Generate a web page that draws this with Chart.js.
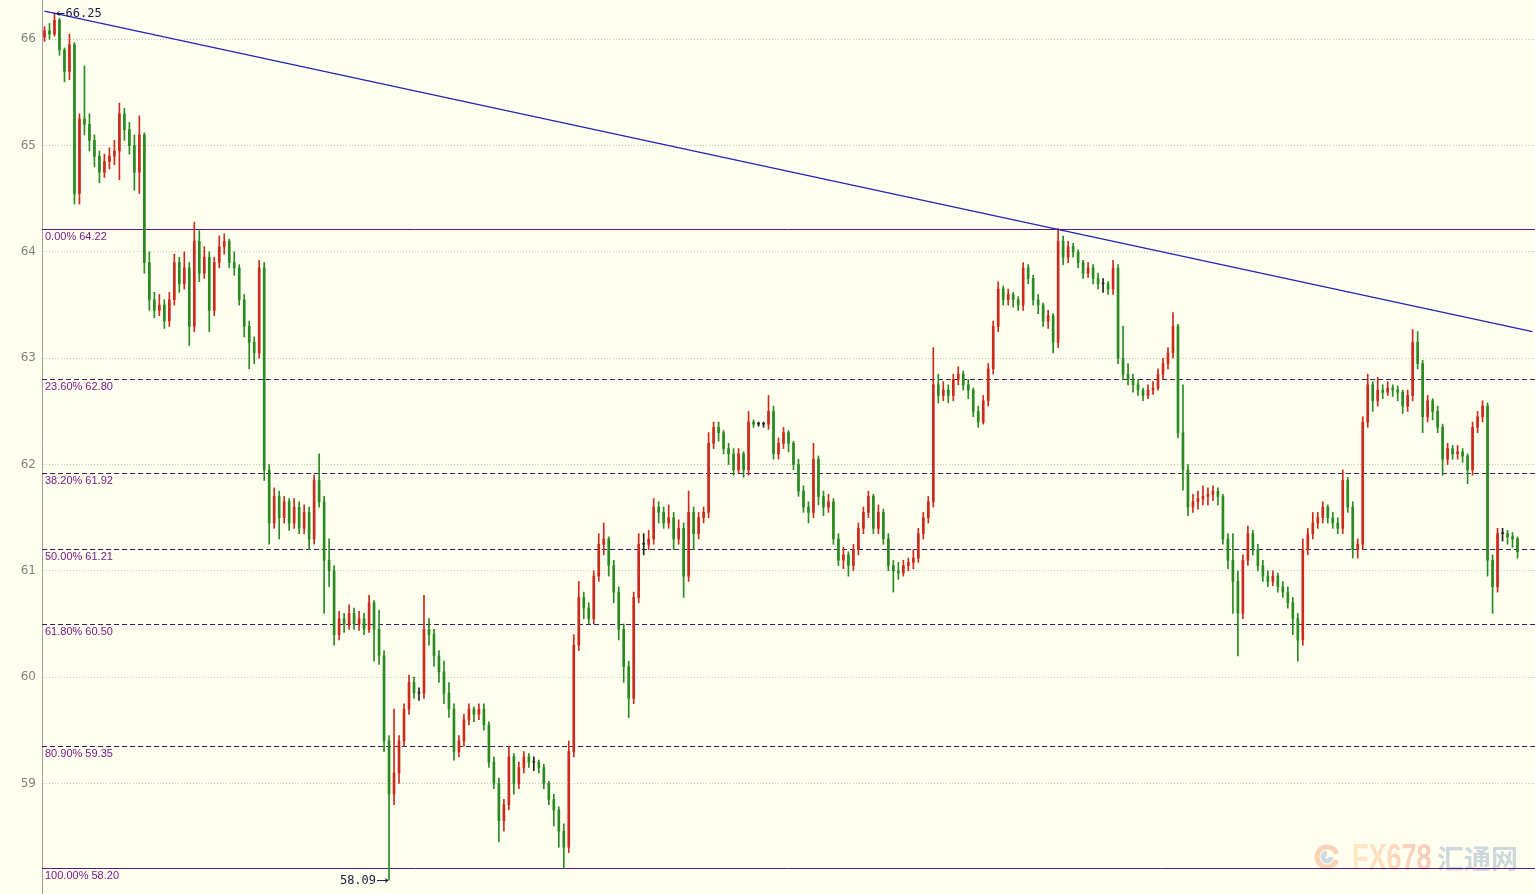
<!DOCTYPE html>
<html>
<head>
<meta charset="utf-8">
<title>Candles</title>
<script src="https://cdn.jsdelivr.net/npm/chart.js@4.4.1/dist/chart.umd.min.js"></script>
<style>
    html, body { margin: 0; padding: 0; background: #fffff0; }
    #wrap { width: 1535px; height: 894px; }
</style>
</head>
<body>
<div id="wrap"><canvas id="myChart" width="1535" height="894"></canvas></div>
<script>
// prices, one candle per slot
const opens = [
    66.02,66.08,66.05,66.18,65.90,65.70,65.95,64.55,65.25,65.20,
    65.05,64.90,64.75,64.85,64.90,64.95,65.30,65.15,65.00,64.75,
    65.10,63.90,63.55,63.45,63.50,63.35,63.55,63.90,63.70,63.85,
    63.30,64.10,63.80,63.95,63.45,63.90,64.05,64.10,63.90,63.85,
    63.55,63.30,63.15,63.05,63.85,61.95,61.45,61.70,61.50,61.65,
    61.45,61.60,61.40,61.55,61.30,61.85,61.65,61.10,61.00,60.40,
    60.55,60.50,60.60,60.50,60.55,60.45,60.70,60.45,60.20,59.40,
    58.90,59.10,59.40,59.70,59.95,59.85,59.85,60.45,60.40,60.20,
    60.05,59.85,59.70,59.30,59.40,59.60,59.70,59.65,59.70,59.55,
    59.20,59.00,58.65,58.80,59.25,59.00,59.15,59.25,59.20,59.20,
    59.15,59.00,58.85,58.75,58.55,58.40,59.30,60.30,60.75,60.65,
    60.55,60.95,61.25,61.30,61.05,60.80,60.45,60.10,59.80,60.75,
    61.25,61.25,61.30,61.60,61.55,61.45,61.50,61.30,61.40,60.95,
    61.55,61.35,61.50,61.55,62.20,62.35,62.30,62.15,62.10,61.95,
    62.10,61.95,62.40,62.38,62.38,62.38,62.50,62.10,62.20,62.30,
    62.20,62.00,61.75,61.60,61.55,62.05,61.70,61.60,61.65,61.30,
    61.10,61.15,61.05,61.20,61.40,61.55,61.70,61.40,61.55,61.30,
    61.05,61.00,60.98,61.05,61.08,61.12,61.35,61.50,61.65,62.75,
    62.65,62.70,62.65,62.80,62.85,62.75,62.70,62.50,62.40,62.60,
    62.90,63.30,63.65,63.55,63.60,63.55,63.50,63.85,63.75,63.55,
    63.50,63.35,63.40,63.15,64.10,63.95,64.05,64.00,63.90,63.80,
    63.85,63.75,63.70,63.70,63.65,63.85,63.00,62.85,62.80,62.75,
    62.70,62.65,62.70,62.72,62.85,62.95,63.05,63.30,62.30,61.95,
    61.60,61.65,61.68,61.70,61.72,61.75,61.70,61.30,61.10,60.90,
    60.60,61.10,61.35,61.20,61.05,60.95,60.90,60.95,60.85,60.80,
    60.70,60.55,60.35,61.20,61.35,61.45,61.50,61.60,61.50,61.45,
    61.40,61.85,61.60,61.20,61.25,62.40,62.75,62.60,62.70,62.68,
    62.72,62.70,62.68,62.55,62.65,63.15,62.95,62.45,62.60,62.50,
    62.35,62.05,62.15,62.10,62.12,62.08,61.95,62.35,62.45,62.55,
    61.10,60.85,61.35,61.35,61.32,61.30
];
const highs = [
    66.12,66.15,66.25,66.20,65.92,66.05,65.97,65.30,65.75,65.30,
    65.10,64.95,64.92,64.98,65.05,65.40,65.35,65.22,65.10,65.28,
    65.12,64.00,63.62,63.60,63.55,63.62,63.98,63.95,64.00,63.90,
    64.28,64.20,64.05,64.00,63.95,64.15,64.17,64.12,64.00,63.88,
    63.60,63.35,63.20,63.92,63.90,62.00,61.78,61.75,61.70,61.68,
    61.68,61.65,61.62,61.60,61.90,62.10,61.70,61.30,61.05,60.62,
    60.60,60.68,60.65,60.62,60.60,60.77,60.72,60.63,60.25,59.45,
    59.70,59.45,59.75,60.02,60.00,59.90,60.77,60.55,60.45,60.25,
    60.15,59.95,59.75,59.45,59.65,59.75,59.72,59.75,59.75,59.58,
    59.25,59.05,58.85,59.35,59.28,59.20,59.30,59.28,59.25,59.22,
    59.18,59.02,58.90,58.78,58.62,59.40,60.40,60.90,60.80,60.70,
    61.00,61.35,61.45,61.32,61.10,60.85,60.50,60.15,60.80,61.35,
    61.35,61.38,61.68,61.65,61.60,61.62,61.55,61.48,61.45,61.75,
    61.60,61.55,61.60,62.30,62.40,62.40,62.32,62.20,62.15,62.15,
    62.12,62.50,62.42,62.40,62.40,62.65,62.55,62.25,62.35,62.32,
    62.22,62.05,61.80,61.65,62.20,62.08,61.75,61.72,61.68,61.35,
    61.22,61.18,61.25,61.45,61.60,61.75,61.72,61.62,61.58,61.35,
    61.10,61.08,61.10,61.12,61.20,61.40,61.55,61.70,63.10,62.85,
    62.78,62.75,62.85,62.92,62.88,62.80,62.72,62.55,62.65,62.95,
    63.35,63.72,63.68,63.65,63.62,63.58,63.90,63.88,63.78,63.60,
    63.52,63.45,63.42,64.22,64.15,64.10,64.08,64.02,63.92,63.90,
    63.88,63.80,63.75,63.72,63.92,63.88,63.30,62.95,62.85,62.80,
    62.72,62.75,62.78,62.90,63.00,63.10,63.43,63.32,62.75,62.00,
    61.72,61.75,61.80,61.78,61.80,61.78,61.72,61.35,61.35,61.00,
    61.15,61.42,61.38,61.25,61.10,61.00,61.00,60.98,60.90,60.85,
    60.75,60.60,61.30,61.40,61.55,61.55,61.65,61.62,61.55,61.50,
    61.95,61.88,61.65,61.30,62.45,62.85,62.78,62.82,62.75,62.78,
    62.75,62.74,62.70,62.70,63.27,63.25,62.98,62.65,62.62,62.55,
    62.38,62.20,62.18,62.18,62.15,62.10,62.40,62.50,62.60,62.58,
    61.15,61.40,61.40,61.38,61.36,61.32
];
const lows = [
    65.98,66.00,66.03,65.85,65.60,65.62,64.45,64.45,65.10,64.95,
    64.80,64.65,64.70,64.78,64.82,64.68,65.05,64.92,64.58,64.55,
    63.80,63.45,63.38,63.40,63.28,63.30,63.50,63.62,63.65,63.12,
    63.25,63.72,63.75,63.25,63.40,63.85,63.98,63.85,63.78,63.50,
    63.20,62.90,62.95,63.00,61.85,61.25,61.40,61.30,61.45,61.38,
    61.40,61.35,61.35,61.20,61.25,61.60,60.60,60.85,60.30,60.35,
    60.42,60.45,60.45,60.44,60.40,60.42,60.15,60.12,59.30,58.09,
    58.80,59.00,59.35,59.65,59.80,59.78,59.80,60.30,60.10,59.95,
    59.75,59.62,59.22,59.25,59.35,59.55,59.58,59.60,59.50,59.15,
    58.95,58.45,58.55,58.75,58.90,58.95,59.10,59.15,59.12,59.10,
    58.95,58.80,58.60,58.40,58.20,58.35,59.25,60.25,60.55,60.50,
    60.50,60.90,61.15,60.95,60.70,60.35,59.95,59.62,59.75,60.70,
    61.15,61.20,61.25,61.45,61.40,61.40,61.20,61.25,60.75,60.90,
    61.20,61.30,61.45,61.50,62.15,62.22,62.10,62.00,61.90,61.92,
    61.88,61.90,62.35,62.36,62.35,62.33,62.05,62.05,62.15,62.12,
    61.95,61.70,61.55,61.45,61.50,61.62,61.52,61.55,61.25,61.05,
    61.02,60.95,61.00,61.15,61.35,61.50,61.35,61.35,61.25,61.00,
    60.80,60.92,60.95,61.00,61.02,61.08,61.30,61.45,61.60,62.58,
    62.60,62.58,62.60,62.75,62.70,62.62,62.45,62.35,62.38,62.55,
    62.85,63.25,63.50,63.50,63.48,63.45,63.45,63.70,63.50,63.42,
    63.30,63.28,63.05,63.10,63.88,63.90,63.95,63.85,63.75,63.76,
    63.70,63.65,63.62,63.60,63.60,62.95,62.80,62.75,62.68,62.65,
    62.60,62.62,62.66,62.70,62.80,62.90,63.00,62.25,61.76,61.52,
    61.55,61.58,61.62,61.62,61.66,61.62,61.25,61.02,60.60,60.20,
    60.55,61.05,61.15,61.00,60.90,60.85,60.86,60.80,60.75,60.65,
    60.40,60.15,60.30,61.15,61.30,61.40,61.45,61.45,61.40,61.35,
    61.35,61.55,61.12,61.12,61.20,62.35,62.50,62.55,62.62,62.65,
    62.64,62.60,62.48,62.50,62.60,62.90,62.30,62.40,62.42,62.30,
    61.90,62.00,62.05,62.05,62.02,61.82,61.90,62.30,62.40,60.95,
    60.60,60.80,61.28,61.25,61.22,61.12
];
const closes = [
    66.08,66.05,66.18,65.90,65.70,65.95,64.55,65.25,65.20,65.05,
    64.90,64.75,64.85,64.90,64.95,65.30,65.15,65.00,64.75,65.10,
    63.90,63.55,63.45,63.50,63.35,63.55,63.90,63.70,63.85,63.30,
    64.10,63.80,63.95,63.45,63.90,64.05,64.10,63.90,63.85,63.55,
    63.30,63.15,63.05,63.85,61.95,61.45,61.70,61.50,61.65,61.45,
    61.60,61.40,61.55,61.30,61.85,61.65,61.10,61.00,60.40,60.55,
    60.50,60.60,60.50,60.55,60.45,60.70,60.45,60.20,59.40,58.90,
    59.10,59.40,59.70,59.95,59.85,59.85,60.45,60.40,60.20,60.05,
    59.85,59.70,59.30,59.40,59.60,59.70,59.65,59.70,59.55,59.20,
    59.00,58.65,58.80,59.25,59.00,59.15,59.25,59.20,59.20,59.15,
    59.00,58.85,58.75,58.55,58.40,59.30,60.30,60.75,60.65,60.55,
    60.95,61.25,61.30,61.05,60.80,60.45,60.10,59.80,60.75,61.25,
    61.25,61.30,61.60,61.55,61.45,61.50,61.30,61.40,60.95,61.55,
    61.35,61.50,61.55,62.20,62.35,62.30,62.15,62.10,61.95,62.10,
    61.95,62.40,62.38,62.38,62.38,62.50,62.10,62.20,62.30,62.20,
    62.00,61.75,61.60,61.55,62.05,61.70,61.60,61.65,61.30,61.10,
    61.15,61.05,61.20,61.40,61.55,61.70,61.40,61.55,61.30,61.05,
    61.00,60.98,61.05,61.08,61.12,61.35,61.50,61.65,62.75,62.65,
    62.70,62.65,62.80,62.85,62.75,62.70,62.50,62.40,62.60,62.90,
    63.30,63.65,63.55,63.60,63.55,63.50,63.85,63.75,63.55,63.50,
    63.35,63.40,63.15,64.10,63.95,64.05,64.00,63.90,63.80,63.85,
    63.75,63.70,63.70,63.65,63.85,63.00,62.85,62.80,62.75,62.70,
    62.65,62.70,62.72,62.85,62.95,63.05,63.30,62.30,61.95,61.60,
    61.65,61.68,61.70,61.72,61.75,61.70,61.30,61.10,60.90,60.60,
    61.10,61.35,61.20,61.05,60.95,60.90,60.95,60.85,60.80,60.70,
    60.55,60.35,61.20,61.35,61.45,61.50,61.60,61.50,61.45,61.40,
    61.85,61.60,61.20,61.25,62.40,62.75,62.60,62.70,62.68,62.72,
    62.70,62.68,62.55,62.65,63.15,62.95,62.45,62.60,62.50,62.35,
    62.05,62.15,62.10,62.12,62.08,61.95,62.35,62.45,62.55,61.10,
    60.85,61.35,61.35,61.32,61.30,61.18
];

const emptySlots = 3;           // blank room right of the last candle
const yTicks = [59, 60, 61, 62, 63, 64, 65, 66];
const yMin = 57.96, yMax = 66.37;

// fibonacci retracement between 64.22 and 58.20
const fibPercents = ['0.00%', '23.60%', '38.20%', '50.00%', '61.80%', '80.90%', '100.00%'];
const fibLevels = [64.22, 62.80, 61.92, 61.21, 60.50, 59.35, 58.20];

// down trend line through the two highs
const trendStart = 66.265, trendEnd = 63.25;

const peakIndex = 2, peakValue = 66.25;
const lowIndex = 69, lowValue = 58.09;

const UP = '#cc2a1c';
const DOWN = '#2a8a22';
const DOJI = '#222222';

const labels = Array.from({length: closes.length + emptySlots}, (_, i) => i);
const candleColors = closes.map((c, i) => c > opens[i] ? UP : (c < opens[i] ? DOWN : DOJI));
const trendData = labels.map(() => null);
trendData[0] = trendStart;
trendData[labels.length - 1] = trendEnd;

const backgroundPlugin = {
    id: 'paper',
    beforeDraw(chart) {
        const ctx = chart.ctx;
        ctx.save();
        ctx.fillStyle = '#fffff0';
        ctx.fillRect(0, 0, chart.width, chart.height);
        ctx.restore();
    }
};

const fibPlugin = {
    id: 'fib',
    beforeDatasetsDraw(chart) {
        const {ctx, chartArea} = chart;
        const y = chart.scales.y;
        ctx.save();
        // watermark first so everything else sits on it
        ctx.globalAlpha = 0.45;
        ctx.lineWidth = 5;
        ctx.strokeStyle = '#f0a070';
        ctx.beginPath();
        ctx.arc(1327, 857, 10, 0.3, Math.PI * 1.9);
        ctx.stroke();
        ctx.strokeStyle = '#9ab0c8';
        ctx.beginPath();
        ctx.arc(1327, 857, 4, 0, Math.PI * 1.5);
        ctx.stroke();
        ctx.save();
        ctx.translate(1352, 870);
        ctx.scale(0.75, 1);
        const grad = ctx.createLinearGradient(0, 0, 100, 0);
        grad.addColorStop(0, '#fbd38a');
        grad.addColorStop(1, '#f48a80');
        ctx.fillStyle = grad;
        ctx.font = 'bold 36px "Liberation Sans", Arial, sans-serif';
        ctx.textBaseline = 'alphabetic';
        ctx.fillText('FX678', 0, 0);
        ctx.restore();
        ctx.fillStyle = '#8fa8c4';
        ctx.font = 'bold 27px "Noto Sans CJK SC", sans-serif';
        ctx.textBaseline = 'alphabetic';
        ctx.fillText('汇通网', 1437, 869);
        ctx.globalAlpha = 1;

        ctx.font = '11px "Liberation Sans", Arial, sans-serif';
        ctx.textBaseline = 'top';
        ctx.textAlign = 'left';
        fibLevels.forEach((lvl, i) => {
            const py = Math.round(y.getPixelForValue(lvl)) + 0.5;
            const solid = i === 0 || i === fibLevels.length - 1;
            ctx.strokeStyle = solid ? '#5a1a7e' : '#3a1f66';
            ctx.lineWidth = 1;
            ctx.setLineDash(solid ? [] : [5, 3]);
            ctx.beginPath();
            ctx.moveTo(chartArea.left, py);
            ctx.lineTo(chartArea.right, py);
            ctx.stroke();
            ctx.fillStyle = '#7a1a8a';
            ctx.fillText(fibPercents[i] + ' ' + lvl.toFixed(2), chartArea.left + 3, py + 2);
        });
        ctx.restore();
    }
};

const markPlugin = {
    id: 'marks',
    afterDatasetsDraw(chart) {
        const {ctx} = chart;
        const x = chart.scales.x, y = chart.scales.y;
        ctx.save();
        ctx.strokeStyle = '#1a1a4a';
        ctx.fillStyle = '#1a1a4a';
        ctx.lineWidth = 1;
        ctx.font = '12px "DejaVu Sans Mono", monospace';
        ctx.textBaseline = 'middle';

        // highest point, arrow pointing back to the candle
        let px = x.getPixelForValue(peakIndex), py = Math.round(y.getPixelForValue(peakValue)) + 0.5;
        ctx.beginPath();
        ctx.moveTo(px + 2, py);
        ctx.lineTo(px + 10, py);
        ctx.moveTo(px + 2, py);
        ctx.lineTo(px + 5, py - 2);
        ctx.moveTo(px + 2, py);
        ctx.lineTo(px + 5, py + 2);
        ctx.stroke();
        ctx.textAlign = 'left';
        ctx.fillText(peakValue.toFixed(2), px + 11, py);

        // lowest point
        px = x.getPixelForValue(lowIndex);
        py = Math.round(y.getPixelForValue(lowValue)) + 0.5;
        ctx.beginPath();
        ctx.moveTo(px - 12, py);
        ctx.lineTo(px - 1, py);
        ctx.moveTo(px - 1, py);
        ctx.lineTo(px - 4, py - 2);
        ctx.moveTo(px - 1, py);
        ctx.lineTo(px - 4, py + 2);
        ctx.stroke();
        ctx.textAlign = 'right';
        ctx.fillText(lowValue.toFixed(2), px - 13, py);
        ctx.restore();
    }
};

const ctx = document.getElementById('myChart');
const myChart = new Chart(ctx, {
    data: {
        labels: labels,
        datasets: [{
            type: 'line',
            data: trendData,
            spanGaps: true,
            borderColor: '#2424b4',
            borderWidth: 1.2,
            pointRadius: 0,
            order: 0
        }, {
            type: 'bar',
            data: opens.map((o, i) => [o, closes[i]]),
            backgroundColor: candleColors,
            barThickness: 2,
            minBarLength: 1,
            grouped: false,
            order: 1
        }, {
            type: 'bar',
            data: lows.map((l, i) => [l, highs[i]]),
            backgroundColor: candleColors,
            barThickness: 1,
            grouped: false,
            order: 2
        }]
    },
    options: {
        responsive: false,
        animation: false,
        devicePixelRatio: 1,
        layout: { padding: 0 },
        plugins: {
            legend: { display: false },
            tooltip: { enabled: false }
        },
        scales: {
            x: {
                display: false
            },
            y: {
                min: yMin,
                max: yMax,
                afterFit: (scale) => {
                    scale.width = 42;
                    scale.paddingTop = 0;
                    scale.paddingBottom = 0;
                },
                afterBuildTicks: (scale) => { scale.ticks = yTicks.map(v => ({value: v})); },
                grid: { color: '#c4c4c4', lineWidth: 1, drawTicks: false },
                border: { display: true, color: '#a0a0a0', width: 1, dash: [1, 2] },
                ticks: {
                    color: '#808080',
                    padding: 6,
                    font: { family: "'DejaVu Sans', sans-serif", size: 12 }
                }
            }
        }
    },
    plugins: [backgroundPlugin, fibPlugin, markPlugin]
});
</script>
</body>
</html>
